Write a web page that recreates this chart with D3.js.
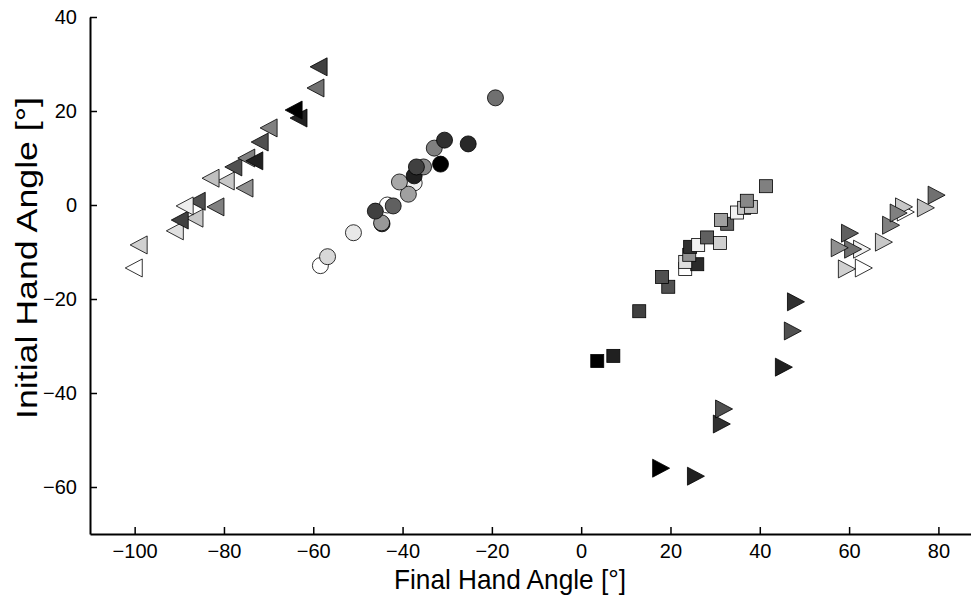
<html>
<head>
<meta charset="utf-8">
<style>
  body { margin: 0; background: #fff; }
  text { font-family: "Liberation Sans", Arial, sans-serif; }
</style>
</head>
<body>
<script src="https://d3js.org/d3.v7.min.js"></script>
<div id="chart"></div>
<script>
// left-pointing triangles (first = drawn on top)
var leftX = [-58.8, -59.5, -64.4, -63.3, -70, -72, -73.2, -75, -77.9, -83, -79.6, -75.4, -88.8, -86.1, -81.9, -89.9, -86.6, -91, -99.1, -100.2];
var leftY = [29.4, 24.9, 20.2, 18.5, 16.4, 13.4, 9.4, 10, 8.1, 5.7, 5.1, 3.6, -0.2, 0.8, -0.4, -3.2, -2.8, -5.5, -8.5, -13.4];
var leftFill = ["#404040", "#707070", "#000000", "#222222", "#808080", "#505050", "#202020", "#808080", "#505050", "#c0c0c0", "#c8c8c8", "#909090", "#eeeeee", "#505050", "#808080", "#404040", "#c8c8c8", "#e0e0e0", "#d0d0d0", "#ffffff"];

// circles
var circX = [-19.2, -30.6, -25.3, -32.9, -31.5, -36.9, -35.3, -37.4, -40.7, -38.7, -42.1, -46.1, -44.7, -44.6, -51, -56.8, -58.4, -37.4, -43.4];
var circY = [22.8, 13.8, 13.0, 12.1, 8.7, 8.1, 8.1, 6.2, 4.9, 2.3, -0.2, -1.3, -3.8, -4.0, -5.9, -11, -12.9, 4.7, 0];
var circFill = ["#707070", "#303030", "#282828", "#808080", "#000000", "#404040", "#888888", "#202020", "#a8a8a8", "#a0a0a0", "#606060", "#404040", "#989898", "#404040", "#e8e8e8", "#d8d8d8", "#ffffff", "#f0f0f0", "#ffffff"];

// squares
var sqX = [41.4, 37.1, 38, 36.5, 34.9, 31.3, 32.7, 28.2, 26.2, 31.1, 24.4, 24.2, 23.3, 26, 23.3, 18.1, 19.5, 13, 7.2, 3.6];
var sqY = [4.0, 0.9, -0.4, -0.6, -1.6, -3.2, -4.0, -6.9, -8.5, -8.1, -8.9, -10.6, -12.1, -12.6, -13.6, -15.3, -17.4, -22.6, -32.1, -33.2];
var sqFill = ["#808080", "#888888", "#c0c0c0", "#c8c8c8", "#f0f0f0", "#a0a0a0", "#606060", "#606060", "#f0f0f0", "#d0d0d0", "#303030", "#909090", "#e0e0e0", "#2a2a2a", "#ffffff", "#505050", "#505050", "#404040", "#202020", "#000000"];

// right-pointing triangles
var rightX = [79.6, 77.2, 71.1, 72.3, 72.7, 69.4, 67.8, 60.2, 57.9, 60.9, 62.9, 59.5, 63.3, 48.1, 47.4, 45.4, 32, 31.5, 17.9, 25.7];
var rightY = [2.1, -0.6, -1.7, -0.4, -1.5, -4.3, -7.9, -6.0, -9.1, -9.4, -9.4, -13.6, -13.4, -20.6, -26.8, -34.5, -43.4, -46.6, -56.0, -57.7];
var rightFill = ["#707070", "#c0c0c0", "#808080", "#c8c8c8", "#ffffff", "#808080", "#c8c8c8", "#606060", "#909090", "#707070", "#f0f0f0", "#d0d0d0", "#ffffff", "#303030", "#505050", "#202020", "#505050", "#303030", "#000000", "#202020"];

var xTicks = [-100, -80, -60, -40, -20, 0, 20, 40, 60, 80];
var yTicks = [-60, -40, -20, 0, 20, 40];

var W = 971, H = 595;
var svg = d3.select("#chart").append("svg")
    .attr("width", W).attr("height", H);

var x = d3.scaleLinear().domain([-110, 87.3]).range([90, 971]);
var y = d3.scaleLinear().domain([-70, 40]).range([534, 17]);

function pts(xs, ys, fs) {
    return xs.map(function(v, i) { return {x: v, y: ys[i], f: fs[i]}; });
}

// markers
var gm = svg.append("g");

gm.selectAll(".lt").data(pts(leftX, leftY, leftFill).reverse()).enter()
    .append("path")
    .attr("d", "M-8.5,0L8.5,-9L8.5,9Z")
    .attr("transform", function(d) { return "translate(" + x(d.x) + "," + y(d.y) + ")"; })
    .attr("fill", function(d) { return d.f; })
    .attr("stroke", "#000").attr("stroke-width", 0.8);

gm.selectAll(".ci").data(pts(circX, circY, circFill).reverse()).enter()
    .append("circle")
    .attr("cx", function(d) { return x(d.x); })
    .attr("cy", function(d) { return y(d.y); })
    .attr("r", 8)
    .attr("fill", function(d) { return d.f; })
    .attr("stroke", "#000").attr("stroke-width", 0.8);

gm.selectAll(".sq").data(pts(sqX, sqY, sqFill).reverse()).enter()
    .append("rect")
    .attr("x", function(d) { return x(d.x) - 6.5; })
    .attr("y", function(d) { return y(d.y) - 6.5; })
    .attr("width", 13).attr("height", 13)
    .attr("fill", function(d) { return d.f; })
    .attr("stroke", "#000").attr("stroke-width", 0.8);

gm.selectAll(".rt").data(pts(rightX, rightY, rightFill).reverse()).enter()
    .append("path")
    .attr("d", "M8.5,0L-8.5,-9L-8.5,9Z")
    .attr("transform", function(d) { return "translate(" + x(d.x) + "," + y(d.y) + ")"; })
    .attr("fill", function(d) { return d.f; })
    .attr("stroke", "#000").attr("stroke-width", 0.8);

// axes
var fmt = function(d) { return d < 0 ? "\u2212" + Math.abs(d) : d; };

var xAxis = svg.append("g")
    .attr("transform", "translate(0,534)")
    .call(d3.axisBottom(x).tickValues(xTicks).tickSizeInner(-7).tickSizeOuter(0).tickPadding(10).tickFormat(fmt));
xAxis.select(".domain").attr("stroke-width", 2);
xAxis.selectAll(".tick line").attr("stroke-width", 1.5);
xAxis.selectAll("text").attr("font-size", 20).attr("fill", "#000");

var yAxis = svg.append("g")
    .attr("transform", "translate(90,0)")
    .call(d3.axisLeft(y).tickValues(yTicks).tickSizeInner(-7).tickSizeOuter(0).tickPadding(13).tickFormat(fmt));
yAxis.select(".domain").attr("stroke-width", 2);
yAxis.selectAll(".tick line").attr("stroke-width", 1.5);
yAxis.selectAll("text").attr("font-size", 20).attr("fill", "#000");

svg.append("text")
    .attr("x", 510).attr("y", 589)
    .attr("text-anchor", "middle")
    .attr("font-size", 28)
    .attr("textLength", 232).attr("lengthAdjust", "spacingAndGlyphs")
    .text("Final Hand Angle [°]");

svg.append("text")
    .attr("transform", "translate(37,258) rotate(-90)")
    .attr("text-anchor", "middle")
    .attr("font-size", 30)
    .attr("textLength", 322).attr("lengthAdjust", "spacingAndGlyphs")
    .text("Initial Hand Angle [°]");
</script>
</body>
</html>
